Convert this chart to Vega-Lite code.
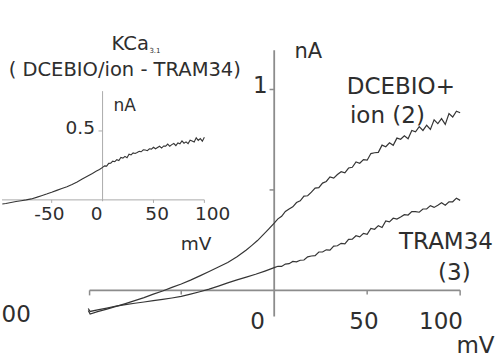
{
  "$schema": "https://vega.github.io/schema/vega-lite/v6.json",
  "width": 495,
  "height": 359,
  "autosize": {"type": "fit", "contains": "padding"},
  "padding": 0,
  "background": "white",
  "config": {"view": {"stroke": null}, "font": "DejaVu Sans", "text": {"font": "DejaVu Sans"}},
  "datasets": {
    "mainCurves": [
      {"s": "D", "mV": -100, "nA": -0.100}, {"s": "D", "mV": -99, "nA": -0.118}, {"s": "D", "mV": -95, "nA": -0.106},
      {"s": "D", "mV": -90, "nA": -0.093}, {"s": "D", "mV": -85, "nA": -0.080}, {"s": "D", "mV": -80, "nA": -0.066},
      {"s": "D", "mV": -75, "nA": -0.051}, {"s": "D", "mV": -70, "nA": -0.036}, {"s": "D", "mV": -65, "nA": -0.019},
      {"s": "D", "mV": -60, "nA": -0.003}, {"s": "D", "mV": -55, "nA": 0.015}, {"s": "D", "mV": -50, "nA": 0.032},
      {"s": "D", "mV": -45, "nA": 0.051}, {"s": "D", "mV": -40, "nA": 0.072}, {"s": "D", "mV": -35, "nA": 0.094},
      {"s": "D", "mV": -30, "nA": 0.116}, {"s": "D", "mV": -25, "nA": 0.139}, {"s": "D", "mV": -20, "nA": 0.167},
      {"s": "D", "mV": -15, "nA": 0.201}, {"s": "D", "mV": -12, "nA": 0.224}, {"s": "D", "mV": -9, "nA": 0.248},
      {"s": "D", "mV": -6, "nA": 0.276}, {"s": "D", "mV": -3, "nA": 0.305},
      {"s": "D", "mV": 0, "nA": 0.335}, {"s": "D", "mV": 2, "nA": 0.356}, {"s": "D", "mV": 4, "nA": 0.369},
      {"s": "D", "mV": 6, "nA": 0.393}, {"s": "D", "mV": 8, "nA": 0.405}, {"s": "D", "mV": 10, "nA": 0.416},
      {"s": "D", "mV": 12, "nA": 0.437}, {"s": "D", "mV": 14, "nA": 0.446}, {"s": "D", "mV": 16, "nA": 0.469},
      {"s": "D", "mV": 18, "nA": 0.471}, {"s": "D", "mV": 20, "nA": 0.489}, {"s": "D", "mV": 22, "nA": 0.509},
      {"s": "D", "mV": 24, "nA": 0.511}, {"s": "D", "mV": 26, "nA": 0.534}, {"s": "D", "mV": 28, "nA": 0.542},
      {"s": "D", "mV": 30, "nA": 0.565}, {"s": "D", "mV": 32, "nA": 0.559}, {"s": "D", "mV": 34, "nA": 0.577},
      {"s": "D", "mV": 36, "nA": 0.591}, {"s": "D", "mV": 38, "nA": 0.585}, {"s": "D", "mV": 40, "nA": 0.609},
      {"s": "D", "mV": 42, "nA": 0.613}, {"s": "D", "mV": 44, "nA": 0.639}, {"s": "D", "mV": 46, "nA": 0.633},
      {"s": "D", "mV": 48, "nA": 0.651}, {"s": "D", "mV": 50, "nA": 0.648}, {"s": "D", "mV": 52, "nA": 0.681},
      {"s": "D", "mV": 54, "nA": 0.685}, {"s": "D", "mV": 56, "nA": 0.687}, {"s": "D", "mV": 58, "nA": 0.723},
      {"s": "D", "mV": 60, "nA": 0.715}, {"s": "D", "mV": 62, "nA": 0.735}, {"s": "D", "mV": 64, "nA": 0.722},
      {"s": "D", "mV": 66, "nA": 0.758}, {"s": "D", "mV": 68, "nA": 0.752}, {"s": "D", "mV": 70, "nA": 0.769},
      {"s": "D", "mV": 72, "nA": 0.755}, {"s": "D", "mV": 74, "nA": 0.796}, {"s": "D", "mV": 76, "nA": 0.789},
      {"s": "D", "mV": 78, "nA": 0.815}, {"s": "D", "mV": 80, "nA": 0.796}, {"s": "D", "mV": 82, "nA": 0.822},
      {"s": "D", "mV": 84, "nA": 0.801}, {"s": "D", "mV": 86, "nA": 0.849}, {"s": "D", "mV": 88, "nA": 0.830},
      {"s": "D", "mV": 90, "nA": 0.855}, {"s": "D", "mV": 92, "nA": 0.826}, {"s": "D", "mV": 94, "nA": 0.880},
      {"s": "D", "mV": 96, "nA": 0.863}, {"s": "D", "mV": 98, "nA": 0.892}, {"s": "D", "mV": 100, "nA": 0.884},
      {"s": "T", "mV": -100, "nA": -0.090}, {"s": "T", "mV": -99, "nA": -0.105}, {"s": "T", "mV": -95, "nA": -0.097},
      {"s": "T", "mV": -90, "nA": -0.088}, {"s": "T", "mV": -85, "nA": -0.078}, {"s": "T", "mV": -80, "nA": -0.071},
      {"s": "T", "mV": -75, "nA": -0.064}, {"s": "T", "mV": -70, "nA": -0.058}, {"s": "T", "mV": -65, "nA": -0.051},
      {"s": "T", "mV": -60, "nA": -0.045}, {"s": "T", "mV": -55, "nA": -0.038}, {"s": "T", "mV": -50, "nA": -0.030},
      {"s": "T", "mV": -45, "nA": -0.019}, {"s": "T", "mV": -40, "nA": -0.007}, {"s": "T", "mV": -35, "nA": 0.006},
      {"s": "T", "mV": -30, "nA": 0.021}, {"s": "T", "mV": -25, "nA": 0.037}, {"s": "T", "mV": -20, "nA": 0.052},
      {"s": "T", "mV": -15, "nA": 0.066}, {"s": "T", "mV": -10, "nA": 0.080}, {"s": "T", "mV": -5, "nA": 0.096},
      {"s": "T", "mV": 0, "nA": 0.113}, {"s": "T", "mV": 2, "nA": 0.120}, {"s": "T", "mV": 4, "nA": 0.119},
      {"s": "T", "mV": 6, "nA": 0.131}, {"s": "T", "mV": 8, "nA": 0.133}, {"s": "T", "mV": 10, "nA": 0.144},
      {"s": "T", "mV": 12, "nA": 0.142}, {"s": "T", "mV": 14, "nA": 0.150}, {"s": "T", "mV": 16, "nA": 0.151},
      {"s": "T", "mV": 18, "nA": 0.167}, {"s": "T", "mV": 20, "nA": 0.171}, {"s": "T", "mV": 22, "nA": 0.173},
      {"s": "T", "mV": 24, "nA": 0.191}, {"s": "T", "mV": 26, "nA": 0.191}, {"s": "T", "mV": 28, "nA": 0.202},
      {"s": "T", "mV": 30, "nA": 0.200}, {"s": "T", "mV": 32, "nA": 0.220}, {"s": "T", "mV": 34, "nA": 0.222},
      {"s": "T", "mV": 36, "nA": 0.234}, {"s": "T", "mV": 38, "nA": 0.231}, {"s": "T", "mV": 40, "nA": 0.254},
      {"s": "T", "mV": 42, "nA": 0.255}, {"s": "T", "mV": 44, "nA": 0.272}, {"s": "T", "mV": 46, "nA": 0.266},
      {"s": "T", "mV": 48, "nA": 0.284}, {"s": "T", "mV": 50, "nA": 0.279}, {"s": "T", "mV": 52, "nA": 0.308},
      {"s": "T", "mV": 54, "nA": 0.304}, {"s": "T", "mV": 56, "nA": 0.322}, {"s": "T", "mV": 58, "nA": 0.313},
      {"s": "T", "mV": 60, "nA": 0.346}, {"s": "T", "mV": 62, "nA": 0.341}, {"s": "T", "mV": 64, "nA": 0.359},
      {"s": "T", "mV": 66, "nA": 0.355}, {"s": "T", "mV": 68, "nA": 0.365}, {"s": "T", "mV": 70, "nA": 0.377},
      {"s": "T", "mV": 72, "nA": 0.375}, {"s": "T", "mV": 74, "nA": 0.392}, {"s": "T", "mV": 76, "nA": 0.392},
      {"s": "T", "mV": 78, "nA": 0.389}, {"s": "T", "mV": 80, "nA": 0.405}, {"s": "T", "mV": 82, "nA": 0.405},
      {"s": "T", "mV": 84, "nA": 0.422}, {"s": "T", "mV": 86, "nA": 0.413}, {"s": "T", "mV": 88, "nA": 0.424},
      {"s": "T", "mV": 90, "nA": 0.436}, {"s": "T", "mV": 92, "nA": 0.424}, {"s": "T", "mV": 94, "nA": 0.441},
      {"s": "T", "mV": 96, "nA": 0.441}, {"s": "T", "mV": 98, "nA": 0.459}, {"s": "T", "mV": 100, "nA": 0.448}
    ],
    "insetCurve": [
      {"mV": -98.5, "nA": -0.030}, {"mV": -95, "nA": -0.026}, {"mV": -90, "nA": -0.019}, {"mV": -85, "nA": -0.012},
      {"mV": -80, "nA": -0.006}, {"mV": -75, "nA": 0.000}, {"mV": -70, "nA": 0.007}, {"mV": -65, "nA": 0.018},
      {"mV": -60, "nA": 0.030}, {"mV": -55, "nA": 0.042}, {"mV": -50, "nA": 0.055}, {"mV": -45, "nA": 0.069},
      {"mV": -40, "nA": 0.082}, {"mV": -35, "nA": 0.095}, {"mV": -30, "nA": 0.112}, {"mV": -25, "nA": 0.130},
      {"mV": -20, "nA": 0.151}, {"mV": -15, "nA": 0.172}, {"mV": -10, "nA": 0.192}, {"mV": -6, "nA": 0.209},
      {"mV": -3, "nA": 0.220}, {"mV": 0, "nA": 0.236}, {"mV": 2, "nA": 0.247}, {"mV": 4, "nA": 0.245},
      {"mV": 6, "nA": 0.265}, {"mV": 8, "nA": 0.266}, {"mV": 10, "nA": 0.281}, {"mV": 12, "nA": 0.277},
      {"mV": 14, "nA": 0.292}, {"mV": 16, "nA": 0.286}, {"mV": 18, "nA": 0.308}, {"mV": 20, "nA": 0.303},
      {"mV": 22, "nA": 0.316}, {"mV": 24, "nA": 0.306}, {"mV": 26, "nA": 0.332}, {"mV": 28, "nA": 0.326},
      {"mV": 30, "nA": 0.341}, {"mV": 32, "nA": 0.337}, {"mV": 34, "nA": 0.344}, {"mV": 36, "nA": 0.352},
      {"mV": 38, "nA": 0.349}, {"mV": 40, "nA": 0.363}, {"mV": 42, "nA": 0.362}, {"mV": 44, "nA": 0.357},
      {"mV": 46, "nA": 0.371}, {"mV": 48, "nA": 0.368}, {"mV": 50, "nA": 0.382}, {"mV": 52, "nA": 0.371},
      {"mV": 54, "nA": 0.380}, {"mV": 56, "nA": 0.389}, {"mV": 58, "nA": 0.376}, {"mV": 60, "nA": 0.391},
      {"mV": 62, "nA": 0.390}, {"mV": 64, "nA": 0.405}, {"mV": 66, "nA": 0.389}, {"mV": 68, "nA": 0.401},
      {"mV": 70, "nA": 0.409}, {"mV": 72, "nA": 0.394}, {"mV": 74, "nA": 0.413}, {"mV": 76, "nA": 0.407},
      {"mV": 78, "nA": 0.428}, {"mV": 80, "nA": 0.411}, {"mV": 82, "nA": 0.421}, {"mV": 84, "nA": 0.408},
      {"mV": 86, "nA": 0.433}, {"mV": 88, "nA": 0.427}, {"mV": 90, "nA": 0.420}, {"mV": 92, "nA": 0.450},
      {"mV": 94, "nA": 0.432}, {"mV": 96, "nA": 0.445}, {"mV": 98, "nA": 0.426}, {"mV": 100, "nA": 0.455}
    ]
  },
  "layer": [
    {
      "layer": [
        {
          "data": {"values": [{"mV": -99.3, "mV2": 100, "nA": 0}]},
          "mark": {"type": "rule", "color": "#8c8c8c", "strokeWidth": 1.8},
          "encoding": {
            "x": {"field": "mV", "type": "quantitative", "axis": null, "scale": {"domain": [-146.4, 118.75], "nice": false, "zero": false}},
            "x2": {"field": "mV2"},
            "y": {"field": "nA", "type": "quantitative", "axis": null, "scale": {"domain": [-0.3317, 1.4455], "nice": false, "zero": false}}
          }
        },
        {
          "data": {"values": [{"mV": 0, "nA": -0.13, "nA2": 1.195}]},
          "mark": {"type": "rule", "color": "#8c8c8c", "strokeWidth": 1.8},
          "encoding": {
            "x": {"field": "mV", "type": "quantitative", "axis": null, "scale": {"domain": [-146.4, 118.75], "nice": false, "zero": false}},
            "y": {"field": "nA", "type": "quantitative", "axis": null, "scale": {"domain": [-0.3317, 1.4455], "nice": false, "zero": false}},
            "y2": {"field": "nA2"}
          }
        },
        {
          "data": {"values": [{"mV": -99.3, "nA": 0, "nA2": -0.025}, {"mV": -50, "nA": 0, "nA2": -0.02}, {"mV": 50, "nA": 0, "nA2": -0.02}, {"mV": 100, "nA": 0, "nA2": -0.025}]},
          "mark": {"type": "rule", "color": "#8c8c8c", "strokeWidth": 1.5},
          "encoding": {
            "x": {"field": "mV", "type": "quantitative", "axis": null, "scale": {"domain": [-146.4, 118.75], "nice": false, "zero": false}},
            "y": {"field": "nA", "type": "quantitative", "axis": null, "scale": {"domain": [-0.3317, 1.4455], "nice": false, "zero": false}},
            "y2": {"field": "nA2"}
          }
        },
        {
          "data": {"values": [{"mV": -2.5, "mV2": 0, "nA": 0.5}, {"mV": -2.5, "mV2": 0, "nA": 1}]},
          "mark": {"type": "rule", "color": "#8c8c8c", "strokeWidth": 1.5},
          "encoding": {
            "x": {"field": "mV", "type": "quantitative", "axis": null, "scale": {"domain": [-146.4, 118.75], "nice": false, "zero": false}},
            "x2": {"field": "mV2"},
            "y": {"field": "nA", "type": "quantitative", "axis": null, "scale": {"domain": [-0.3317, 1.4455], "nice": false, "zero": false}}
          }
        },
        {
          "data": {"name": "mainCurves"},
          "mark": {"type": "line", "color": "#353535", "strokeWidth": 1.2},
          "encoding": {
            "x": {"field": "mV", "type": "quantitative", "axis": null, "scale": {"domain": [-146.4, 118.75], "nice": false, "zero": false}},
            "y": {"field": "nA", "type": "quantitative", "axis": null, "scale": {"domain": [-0.3317, 1.4455], "nice": false, "zero": false}},
            "detail": {"field": "s"}
          }
        },
        {
          "data": {"values": [
            {"mV": 68.1, "nA": 0.980, "label": "DCEBIO+"},
            {"mV": 60.9, "nA": 0.835, "label": "ion (2)"},
            {"mV": 92.4, "nA": 0.208, "label": "TRAM34"},
            {"mV": 96.9, "nA": 0.051, "label": "(3)"},
            {"mV": -9.0, "nA": -0.193, "label": "0"},
            {"mV": 48.3, "nA": -0.193, "label": "50"},
            {"mV": 89.7, "nA": -0.193, "label": "100"}
          ]},
          "mark": {"type": "text", "fontSize": 23, "color": "#2e2e2e", "align": "center", "baseline": "alphabetic"},
          "encoding": {
            "x": {"field": "mV", "type": "quantitative", "axis": null, "scale": {"domain": [-146.4, 118.75], "nice": false, "zero": false}},
            "y": {"field": "nA", "type": "quantitative", "axis": null, "scale": {"domain": [-0.3317, 1.4455], "nice": false, "zero": false}},
            "text": {"field": "label"}
          }
        },
        {
          "data": {"values": [
            {"mV": -3.5, "nA": 0.984, "label": "1"},
            {"mV": 118.5, "nA": -0.312, "label": "mV"},
            {"mV": -130.9, "nA": -0.155, "label": "00"}
          ]},
          "mark": {"type": "text", "fontSize": 23, "color": "#2e2e2e", "align": "right", "baseline": "alphabetic"},
          "encoding": {
            "x": {"field": "mV", "type": "quantitative", "axis": null, "scale": {"domain": [-146.4, 118.75], "nice": false, "zero": false}},
            "y": {"field": "nA", "type": "quantitative", "axis": null, "scale": {"domain": [-0.3317, 1.4455], "nice": false, "zero": false}},
            "text": {"field": "label"}
          }
        },
        {
          "data": {"values": [{"mV": 18.3, "nA": 1.157, "label": "nA"}]},
          "mark": {"type": "text", "fontSize": 21, "color": "#2e2e2e", "align": "center", "baseline": "alphabetic"},
          "encoding": {
            "x": {"field": "mV", "type": "quantitative", "axis": null, "scale": {"domain": [-146.4, 118.75], "nice": false, "zero": false}},
            "y": {"field": "nA", "type": "quantitative", "axis": null, "scale": {"domain": [-0.3317, 1.4455], "nice": false, "zero": false}},
            "text": {"field": "label"}
          }
        }
      ]
    },
    {
      "layer": [
        {
          "data": {"values": [{"mV": -98.8, "mV2": 100, "nA": 0}]},
          "mark": {"type": "rule", "color": "#ababab", "strokeWidth": 1},
          "encoding": {
            "x": {"field": "mV", "type": "quantitative", "axis": null, "scale": {"domain": [-98.8, 385.5], "nice": false, "zero": false}},
            "x2": {"field": "mV2"},
            "y": {"field": "nA", "type": "quantitative", "axis": null, "scale": {"domain": [-1.140, 1.4502], "nice": false, "zero": false}}
          }
        },
        {
          "data": {"values": [{"mV": 0, "nA": -0.01, "nA2": 0.789}]},
          "mark": {"type": "rule", "color": "#ababab", "strokeWidth": 1},
          "encoding": {
            "x": {"field": "mV", "type": "quantitative", "axis": null, "scale": {"domain": [-98.8, 385.5], "nice": false, "zero": false}},
            "y": {"field": "nA", "type": "quantitative", "axis": null, "scale": {"domain": [-1.140, 1.4502], "nice": false, "zero": false}},
            "y2": {"field": "nA2"}
          }
        },
        {
          "data": {"values": [{"mV": -50, "nA": 0, "nA2": -0.022}, {"mV": 50, "nA": 0, "nA2": -0.022}, {"mV": 100, "nA": 0, "nA2": -0.022}]},
          "mark": {"type": "rule", "color": "#ababab", "strokeWidth": 1},
          "encoding": {
            "x": {"field": "mV", "type": "quantitative", "axis": null, "scale": {"domain": [-98.8, 385.5], "nice": false, "zero": false}},
            "y": {"field": "nA", "type": "quantitative", "axis": null, "scale": {"domain": [-1.140, 1.4502], "nice": false, "zero": false}},
            "y2": {"field": "nA2"}
          }
        },
        {
          "data": {"values": [{"mV": -4, "mV2": 0, "nA": 0.5}]},
          "mark": {"type": "rule", "color": "#ababab", "strokeWidth": 1},
          "encoding": {
            "x": {"field": "mV", "type": "quantitative", "axis": null, "scale": {"domain": [-98.8, 385.5], "nice": false, "zero": false}},
            "x2": {"field": "mV2"},
            "y": {"field": "nA", "type": "quantitative", "axis": null, "scale": {"domain": [-1.140, 1.4502], "nice": false, "zero": false}}
          }
        },
        {
          "data": {"name": "insetCurve"},
          "mark": {"type": "line", "color": "#353535", "strokeWidth": 1.1},
          "encoding": {
            "x": {"field": "mV", "type": "quantitative", "axis": null, "scale": {"domain": [-98.8, 385.5], "nice": false, "zero": false}},
            "y": {"field": "nA", "type": "quantitative", "axis": null, "scale": {"domain": [-1.140, 1.4502], "nice": false, "zero": false}}
          }
        },
        {
          "data": {"values": [{"mV": 21.8, "nA": 0.897, "label": "( DCEBIO/ion - TRAM34)"}]},
          "mark": {"type": "text", "fontSize": 19.5, "color": "#2e2e2e", "align": "center", "baseline": "alphabetic"},
          "encoding": {
            "x": {"field": "mV", "type": "quantitative", "axis": null, "scale": {"domain": [-98.8, 385.5], "nice": false, "zero": false}},
            "y": {"field": "nA", "type": "quantitative", "axis": null, "scale": {"domain": [-1.140, 1.4502], "nice": false, "zero": false}},
            "text": {"field": "label"}
          }
        },
        {
          "data": {"values": [{"mV": 45.5, "nA": 1.089, "label": "KCa"}]},
          "mark": {"type": "text", "fontSize": 19.5, "color": "#2e2e2e", "align": "right", "baseline": "alphabetic"},
          "encoding": {
            "x": {"field": "mV", "type": "quantitative", "axis": null, "scale": {"domain": [-98.8, 385.5], "nice": false, "zero": false}},
            "y": {"field": "nA", "type": "quantitative", "axis": null, "scale": {"domain": [-1.140, 1.4502], "nice": false, "zero": false}},
            "text": {"field": "label"}
          }
        },
        {
          "data": {"values": [{"mV": 46.0, "nA": 1.066, "label": "3.1"}]},
          "mark": {"type": "text", "fontSize": 7, "color": "#2e2e2e", "align": "left", "baseline": "alphabetic"},
          "encoding": {
            "x": {"field": "mV", "type": "quantitative", "axis": null, "scale": {"domain": [-98.8, 385.5], "nice": false, "zero": false}},
            "y": {"field": "nA", "type": "quantitative", "axis": null, "scale": {"domain": [-1.140, 1.4502], "nice": false, "zero": false}},
            "text": {"field": "label"}
          }
        },
        {
          "data": {"values": [{"mV": 21.8, "nA": 0.644, "label": "nA"}]},
          "mark": {"type": "text", "fontSize": 17, "color": "#2e2e2e", "align": "center", "baseline": "alphabetic"},
          "encoding": {
            "x": {"field": "mV", "type": "quantitative", "axis": null, "scale": {"domain": [-98.8, 385.5], "nice": false, "zero": false}},
            "y": {"field": "nA", "type": "quantitative", "axis": null, "scale": {"domain": [-1.140, 1.4502], "nice": false, "zero": false}},
            "text": {"field": "label"}
          }
        },
        {
          "data": {"values": [
            {"mV": -52.3, "nA": -0.149, "label": "-50"},
            {"mV": -5.9, "nA": -0.149, "label": "0"},
            {"mV": 53.6, "nA": -0.149, "label": "50"},
            {"mV": 108.1, "nA": -0.149, "label": "100"},
            {"mV": 91.9, "nA": -0.366, "label": "mV"}
          ]},
          "mark": {"type": "text", "fontSize": 18.5, "color": "#2e2e2e", "align": "center", "baseline": "alphabetic"},
          "encoding": {
            "x": {"field": "mV", "type": "quantitative", "axis": null, "scale": {"domain": [-98.8, 385.5], "nice": false, "zero": false}},
            "y": {"field": "nA", "type": "quantitative", "axis": null, "scale": {"domain": [-1.140, 1.4502], "nice": false, "zero": false}},
            "text": {"field": "label"}
          }
        },
        {
          "data": {"values": [{"mV": -7.5, "nA": 0.476, "label": "0.5"}]},
          "mark": {"type": "text", "fontSize": 18.5, "color": "#2e2e2e", "align": "right", "baseline": "alphabetic"},
          "encoding": {
            "x": {"field": "mV", "type": "quantitative", "axis": null, "scale": {"domain": [-98.8, 385.5], "nice": false, "zero": false}},
            "y": {"field": "nA", "type": "quantitative", "axis": null, "scale": {"domain": [-1.140, 1.4502], "nice": false, "zero": false}},
            "text": {"field": "label"}
          }
        }
      ]
    }
  ],
  "resolve": {"scale": {"x": "independent", "y": "independent"}}
}
